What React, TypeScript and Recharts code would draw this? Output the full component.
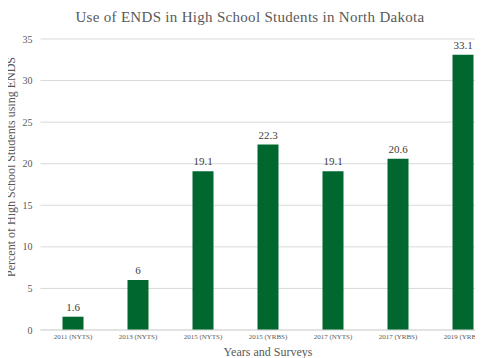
import { BarChart, Bar, XAxis, YAxis, CartesianGrid, LabelList } from "recharts";

const surveys = [
  "2011 (NYTS)",
  "2013 (NYTS)",
  "2015 (NYTS)",
  "2015 (YRBS)",
  "2017 (NYTS)",
  "2017 (YRBS)",
  "2019 (YRBS)",
];
const percents = [1.6, 6, 19.1, 22.3, 19.1, 20.6, 33.1];
const yTicks = [0, 5, 10, 15, 20, 25, 30, 35];

const data = surveys.map((s, i) => ({ survey: s, value: percents[i] }));

const FONT = "'Liberation Serif', 'Times New Roman', serif";

const App = () => {
  return (
    <div
      style={{
        position: "relative",
        width: 483,
        height: 358,
        margin: "-8px 0 0 -8px",
        overflow: "hidden",
        fontFamily: FONT,
        background: "#fff",
      }}
    >
      <div
        style={{
          position: "absolute",
          top: 9,
          left: 0,
          width: 500,
          textAlign: "center",
          fontSize: 15,
          color: "#595959",
          letterSpacing: 0.3,
        }}
      >
        Use of ENDS in High School Students in North Dakota
      </div>
      <BarChart
        width={500}
        height={358}
        data={data}
        margin={{ top: 39, right: 4.5, left: 0, bottom: 0 }}
        style={{ fontFamily: FONT }}
      >
        <CartesianGrid vertical={false} stroke="#d9d9d9" />
        <XAxis
          dataKey="survey"
          height={28}
          interval={0}
          tickSize={0}
          tickMargin={4}
          axisLine={{ stroke: "#d9d9d9" }}
          tick={{ fontSize: 7, fill: "#595959", style: { fontFamily: FONT } }}
          label={{
            content: () => (
              <text
                x={268}
                y={356}
                textAnchor="middle"
                fill="#595959"
                style={{ fontFamily: FONT, fontSize: 12 }}
              >
                Years and Surveys
              </text>
            ),
          }}
        />
        <YAxis
          width={40.5}
          domain={[0, 35]}
          ticks={yTicks}
          tickSize={0}
          tickMargin={8}
          axisLine={false}
          tick={{ fontSize: 10, fill: "#595959", style: { fontFamily: FONT } }}
          label={{
            content: () => (
              <text
                x={15}
                y={167}
                transform="rotate(-90 15 167)"
                textAnchor="middle"
                fill="#595959"
                style={{ fontFamily: FONT, fontSize: 12 }}
              >
                Percent of High School Students using ENDS
              </text>
            ),
          }}
        />
        <Bar dataKey="value" fill="#00682f" barSize={21} isAnimationActive={false}>
          <LabelList
            dataKey="value"
            position="top"
            offset={6}
            fill="#404040"
            style={{ fontFamily: FONT, fontSize: 11 }}
          />
        </Bar>
      </BarChart>
    </div>
  );
};

export default App;
